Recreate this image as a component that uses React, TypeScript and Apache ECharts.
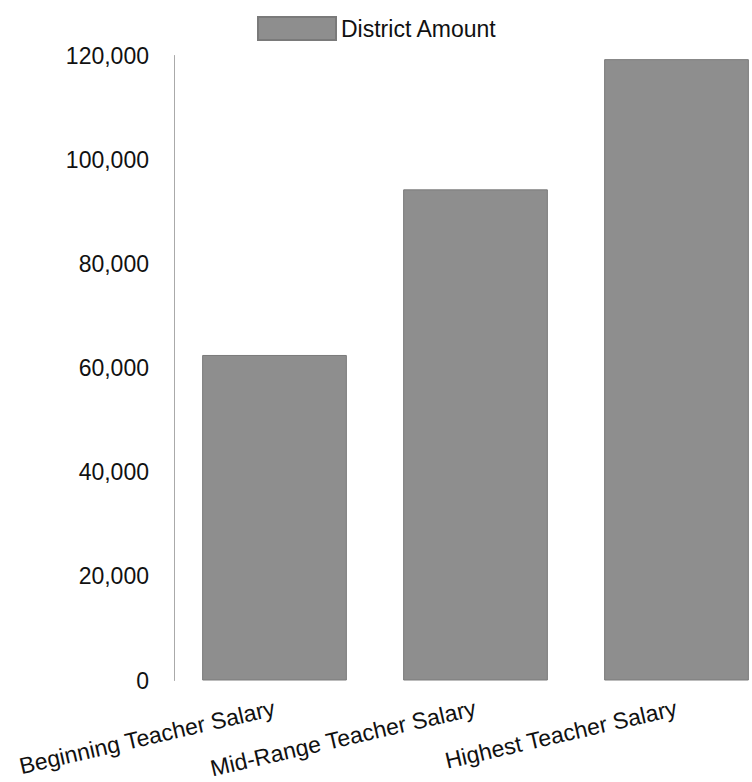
import React, { useEffect, useRef } from "react";
import * as echarts from "echarts";

const categories = ["Beginning Teacher Salary", "Mid-Range Teacher Salary", "Highest Teacher Salary"];
const districtAmount = [62500, 94300, 119300];
const seriesName = "District Amount";

export default function App() {
  const ref = useRef<HTMLDivElement>(null);
  useEffect(() => {
    if (!ref.current) return;
    const chart = echarts.init(ref.current, null, { renderer: "svg" });
    const font = "'Liberation Sans', Arial, sans-serif";
    chart.setOption({
      animation: false,
      backgroundColor: "#ffffff",
      textStyle: { fontFamily: font },
      legend: {
        top: 11,
        left: 252,
        itemWidth: 78,
        itemHeight: 23,
        itemGap: 13,
        textStyle: { fontSize: 23, color: "#111", fontFamily: font },
        data: [{ name: seriesName, icon: "rect" }],
      },
      grid: { left: 174, top: 55.5, width: 603, height: 625, containLabel: false, outerBoundsMode: "none" },
      xAxis: {
        type: "category",
        data: categories,
        axisLine: { show: false },
        axisTick: { show: false },
        axisLabel: { rotate: 13, margin: 27, fontSize: 23, color: "#111", fontFamily: font, interval: 0 },
      },
      yAxis: {
        type: "value",
        min: 0,
        max: 120000,
        interval: 20000,
        axisLine: { show: true, lineStyle: { color: "#aaaaaa", width: 1 } },
        axisTick: { show: false },
        splitLine: { show: false },
        axisLabel: {
          margin: 25,
          fontSize: 23,
          color: "#111",
          fontFamily: font,
          formatter: (v: number) => v.toLocaleString("en-US"),
        },
      },
      series: [
        {
          name: seriesName,
          type: "bar",
          data: districtAmount,
          barCategoryGap: "28%",
          itemStyle: { color: "#8e8e8e", borderColor: "#7a7a7a", borderWidth: 1 },
        },
      ],
    });
    return () => chart.dispose();
  }, []);
  return <div ref={ref} style={{ width: 752, height: 782, position: "absolute", left: 0, top: 0 }} />;
}
